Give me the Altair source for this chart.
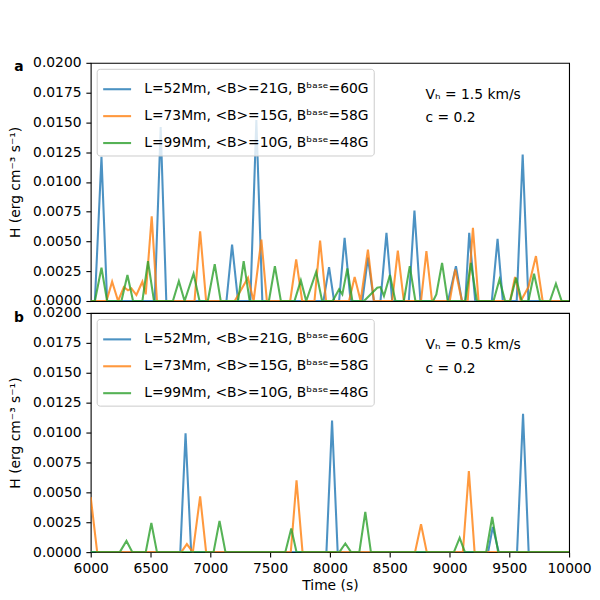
import altair as alt
import pandas as pd

SERIES = [
    "L=52Mm, <B>=21G, Bᵇᵃˢᵉ=60G",
    "L=73Mm, <B>=15G, Bᵇᵃˢᵉ=58G",
    "L=99Mm, <B>=10G, Bᵇᵃˢᵉ=48G",
]
COLORS = ["#1f77b4", "#ff7f0e", "#2ca02c"]

# ---- panel a (V_h = 1.5 km/s) ----
a_blue_t = [6000, 6035, 6090, 6137, 6535, 6585, 6632, 7135, 7182, 7232, 7335, 7385, 7435,
            7946, 7993, 8035, 8077, 8123, 8173, 8271, 8318, 8368, 8423, 8473, 8521, 8660,
            8707, 8757, 8988, 9054, 9104, 9132, 9165, 9215, 9354, 9402, 9446, 9562, 9612,
            9660, 10000]
a_blue_v = [0, 0, 0.0121, 0, 0, 0.0146, 0, 0, 0.00474, 0, 0, 0.0152, 0,
            0, 0.00284, 0, 0, 0.0053, 0, 0, 0.00365, 0, 0, 0.00572, 0, 0,
            0.00759, 0, 0, 0.00293, 0, 0, 0.00572, 0, 0, 0.00522, 0, 0, 0.0123,
            0, 0]

a_orange_t = [6000, 6132, 6179, 6229, 6277, 6312, 6340, 6382, 6432, 6460, 6510, 6554, 6868,
              6915, 6965, 7204, 7260, 7315, 7362, 7427, 7473, 7668, 7718, 7768, 7871, 7918,
              7968, 8160, 8207, 8257, 8318, 8368, 8521, 8568, 8618, 8762, 8807, 8854, 9002,
              9048, 9104, 9152, 9196, 9243, 9507, 9548, 9596, 9660, 9723, 9779, 10000]
a_orange_v = [0, 0, 0.00162, 0, 0.00117, 0.0009, 0.00106, 0.0005, 0.00162, 0.00056, 0.00711, 0, 0,
              0.00586, 0, 0, 0.00098, 0.00195, 0, 0.00516, 0, 0, 0.00349, 0, 0, 0.00508,
              0, 0, 0.00201, 0, 0.00432, 0, 0, 0.00424, 0, 0, 0.00418, 0, 0,
              0.00265, 0, 0, 0.00614, 0, 0, 0.00201, 0, 0.00117, 0.00377, 0, 0]

a_green_t = [6000, 6035, 6090, 6137, 6257, 6307, 6354, 6432, 6479, 6529, 6687, 6737, 6785,
             6860, 6910, 6979, 7037, 7087, 7232, 7279, 7329, 7490, 7540, 7590, 7704, 7757,
             7802, 7885, 7935, 8023, 8077, 8104, 8146, 8188, 8285, 8327, 8396, 8423, 8452,
             8502, 8548, 8618, 8668, 8715, 8863, 8890, 8938, 8985, 9132, 9179, 9229, 9368,
             9418, 9465, 9507, 9557, 9604, 9660, 9707, 9757, 9840, 9890, 9938, 10000]
a_green_v = [0, 0, 0.00279, 0, 0, 0.00218, 0, 0, 0.00335, 0, 0, 0.00167, 0,
             0.00229, 0, 0, 0.0031, 0, 0, 0.00335, 0, 0, 0.00293, 0, 0, 0.00173,
             0, 0.00245, 0, 0, 0.00098, 0.00056, 0.00274, 0, 0, 0.00042, 0.00112, 0.00117, 0.00042,
             0.00218, 0, 0, 0.00293, 0, 0, 0.00056, 0.0032, 0, 0, 0.0032, 0, 0,
             0.00181, 0, 0, 0.00195, 0, 0, 0.00229, 0, 0, 0.00145, 0, 0]

# ---- panel b (V_h = 0.5 km/s) ----
b_blue_t = [6000, 6749, 6793, 6840, 7971, 8018, 8065, 9323, 9362, 9412, 9565, 9615, 9662, 10000]
b_blue_v = [0, 0, 0.00994, 0, 0, 0.0110, 0, 0, 0.00211, 0, 0, 0.01156, 0, 0]

b_orange_t = [6000, 6054, 6757, 6804, 6854, 6915, 6965, 7673, 7721, 7771, 8712, 8762, 8810,
              9112, 9162, 9210, 10000]
b_orange_v = [0.0046, 0, 0, 0.00067, 0, 0.00467, 0, 0, 0.0060, 0, 0, 0.00233, 0,
              0, 0.00678, 0, 0]

b_green_t = [6000, 6243, 6299, 6348, 6460, 6507, 6554, 7027, 7077, 7127, 7627, 7677, 7721,
             8079, 8129, 8177, 8246, 8296, 8343, 9037, 9085, 9129, 9307, 9357, 9407, 10000]
b_green_v = [0, 0, 0.00094, 0, 0, 0.00244, 0, 0, 0.00261, 0, 0, 0.00197, 0,
             0, 0.00072, 0, 0, 0.00336, 0, 0, 0.0012, 0, 0, 0.00294, 0, 0]

X_TICKS = [6000, 6500, 7000, 7500, 8000, 8500, 9000, 9500, 10000]
Y_TICKS = [0.0, 0.0025, 0.005, 0.0075, 0.01, 0.0125, 0.015, 0.0175, 0.02]
Y_TITLE = "H (erg cm⁻³ s⁻¹)"
X_TITLE = "Time (s)"

FONT = "DejaVu Sans"
FS = 13.9


def frame(pairs):
    rows = []
    for name, (ts, vs) in zip(SERIES, pairs):
        for t, v in zip(ts, vs):
            rows.append({"series": name, "t": t, "H": v})
    return pd.DataFrame(rows)


XS = alt.Scale(domain=[6000, 10000], nice=False, zero=False)
YS = alt.Scale(domain=[0, 0.02], nice=False)


def panel(df, vh, letter, height, bottom, label_y):
    if bottom:
        x_axis = alt.Axis(values=X_TICKS, format="d", title=X_TITLE, titlePadding=3,
                          labelOverlap=False, labelFlush=False, labelBound=False)
    else:
        x_axis = alt.Axis(values=X_TICKS, labels=False, ticks=False, title=None)
    y_axis = alt.Axis(values=Y_TICKS, format=".4f", title=Y_TITLE, titlePadding=10,
                      labelOverlap=False, labelFlush=False, labelBound=False, tickCount=9)
    legend = alt.Legend(
        orient="top-left", offset=6, title=None, symbolType="stroke",
        symbolSize=784, symbolStrokeWidth=2.1, symbolOpacity=0.8,
        labelFont=FONT, labelFontSize=FS, labelOffset=11.7, labelLimit=500,
        padding=5, rowPadding=4, strokeColor="#cccccc",
        fillColor="rgba(255,255,255,0.8)", cornerRadius=3,
    )
    lines = alt.Chart(df).mark_line(strokeWidth=2.08, opacity=0.8, clip=True).encode(
        x=alt.X("t:Q", scale=XS, axis=x_axis),
        y=alt.Y("H:Q", scale=YS, axis=y_axis),
        color=alt.Color("series:N", scale=alt.Scale(domain=SERIES, range=COLORS), legend=legend),
    )
    ann_df = pd.DataFrame({
        "t": [8800, 8800],
        "H": [0.017, 0.015],
        "text": [f"Vₕ = {vh} km/s", "c = 0.2"],
    })
    ann = alt.Chart(ann_df).mark_text(
        align="left", baseline="alphabetic", font=FONT, fontSize=FS, color="black"
    ).encode(
        x=alt.X("t:Q", scale=XS, axis=x_axis),
        y=alt.Y("H:Q", scale=YS, axis=y_axis),
        text="text:N",
    )
    lab = alt.Chart(pd.DataFrame({"s": [letter]})).mark_text(
        fontWeight="bold", font=FONT, fontSize=FS, baseline="middle", align="center", color="black"
    ).encode(x=alt.value(-72), y=alt.value(label_y), text="s:N")
    return alt.layer(lines, ann, lab).properties(width=480, height=height)


top = panel(frame([(a_blue_t, a_blue_v), (a_orange_t, a_orange_v), (a_green_t, a_green_v)]),
            "1.5", "a", 239, False, 4)
bot = panel(frame([(b_blue_t, b_blue_v), (b_orange_t, b_orange_v), (b_green_t, b_green_v)]),
            "0.5", "b", 240, True, 5)

chart = alt.vconcat(top, bot, spacing=12, bounds="flush").resolve_scale(
    color="independent"
).resolve_legend(color="independent").properties(
    padding={"left": 0, "top": 46, "right": 0, "bottom": 0},
    background="white",
).configure_view(
    stroke="black", strokeWidth=1.1
).configure_axis(
    labelFont=FONT, labelFontSize=FS, titleFont=FONT, titleFontSize=FS,
    titleFontWeight="normal", labelColor="black", titleColor="black",
    tickColor="black", tickWidth=1.1, tickSize=4.86, labelPadding=4.86,
    domain=False, grid=False, labelOverlap=False,
)

chart.save("out.html", embed_options={"renderer": "svg", "actions": False})
